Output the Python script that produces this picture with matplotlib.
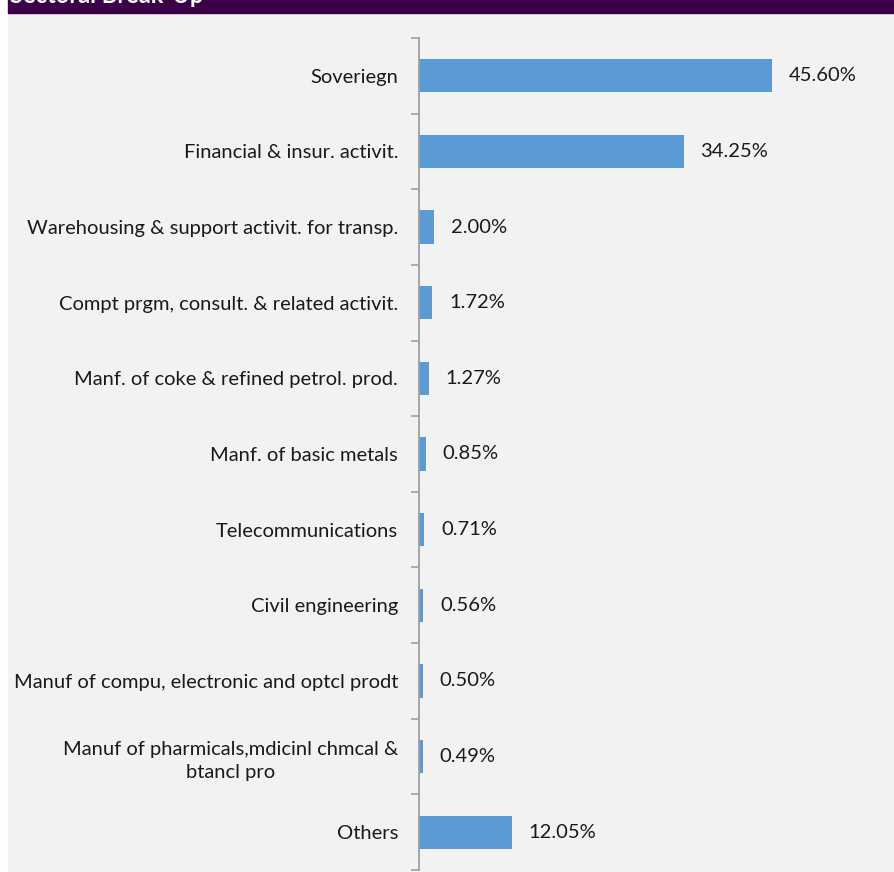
import matplotlib.pyplot as plt
from matplotlib.patches import Rectangle

plt.rcParams['font.family'] = ['Lato', 'DejaVu Sans']

sectors = [
    "Soveriegn",
    "Financial & insur. activit.",
    "Warehousing & support activit. for transp.",
    "Compt prgm, consult. & related activit.",
    "Manf. of coke & refined petrol. prod.",
    "Manf. of basic metals",
    "Telecommunications",
    "Civil engineering",
    "Manuf of compu, electronic and optcl prodt",
    "Manuf of pharmicals,mdicinl chmcal &\nbtancl pro",
    "Others",
]
weights = [45.60, 34.25, 2.00, 1.72, 1.27, 0.85, 0.71, 0.56, 0.50, 0.49, 12.05]

W, H = 894, 872
fig = plt.figure(figsize=(W / 100, H / 100), dpi=100, facecolor='white')

# panel background and header strip
fig.patches.append(Rectangle((8 / W, 0), 1 - 8 / W, (H - 13) / H,
                             transform=fig.transFigure, color='#f2f2f2', zorder=-5))
fig.patches.append(Rectangle((8 / W, (H - 13) / H), 1 - 8 / W, 13 / H,
                             transform=fig.transFigure, color='#3b0048', zorder=-5))
fig.text(10 / W, (H - 3) / H, "Sectoral Break-Up", color='white', fontsize=17,
         fontweight='bold', va='baseline', ha='left')

x0, x1 = 419, 883
y_top, y_bot = 38, 870
ax = fig.add_axes([x0 / W, (H - y_bot) / H, (x1 - x0) / W, (y_bot - y_top) / H])
ax.set_facecolor('none')
ax.set_zorder(2)

pos = list(range(len(sectors)))
ax.barh(pos, weights, height=0.44, color='#5b9bd5', zorder=2)
ax.set_xlim(0, 60)
ax.set_ylim(len(sectors) - 0.5, -0.5)

for p, v in zip(pos, weights):
    ax.annotate(f"{v:.2f}%", xy=(v, p), xytext=(12, 0), textcoords='offset points',
                va='center', ha='left', fontsize=14.5, color='#1a1a1a')

ax.set_yticks(pos)
ax.set_yticklabels(sectors, fontsize=14.5, color='#1a1a1a', linespacing=1.45,
                   multialignment='center')
ax.set_yticks([p - 0.5 for p in pos] + [len(sectors) - 0.5], minor=True)
ax.tick_params(axis='y', which='major', length=0, pad=15)
ax.tick_params(axis='y', which='minor', length=6, width=1.2, color='#a0a0a0', direction='out')
ax.set_xticks([])

for s in ['top', 'right', 'bottom']:
    ax.spines[s].set_visible(False)
ax.spines['left'].set_color('#a0a0a0')
ax.spines['left'].set_linewidth(1.3)

fig.savefig('out.png', dpi=100, facecolor=fig.get_facecolor())
